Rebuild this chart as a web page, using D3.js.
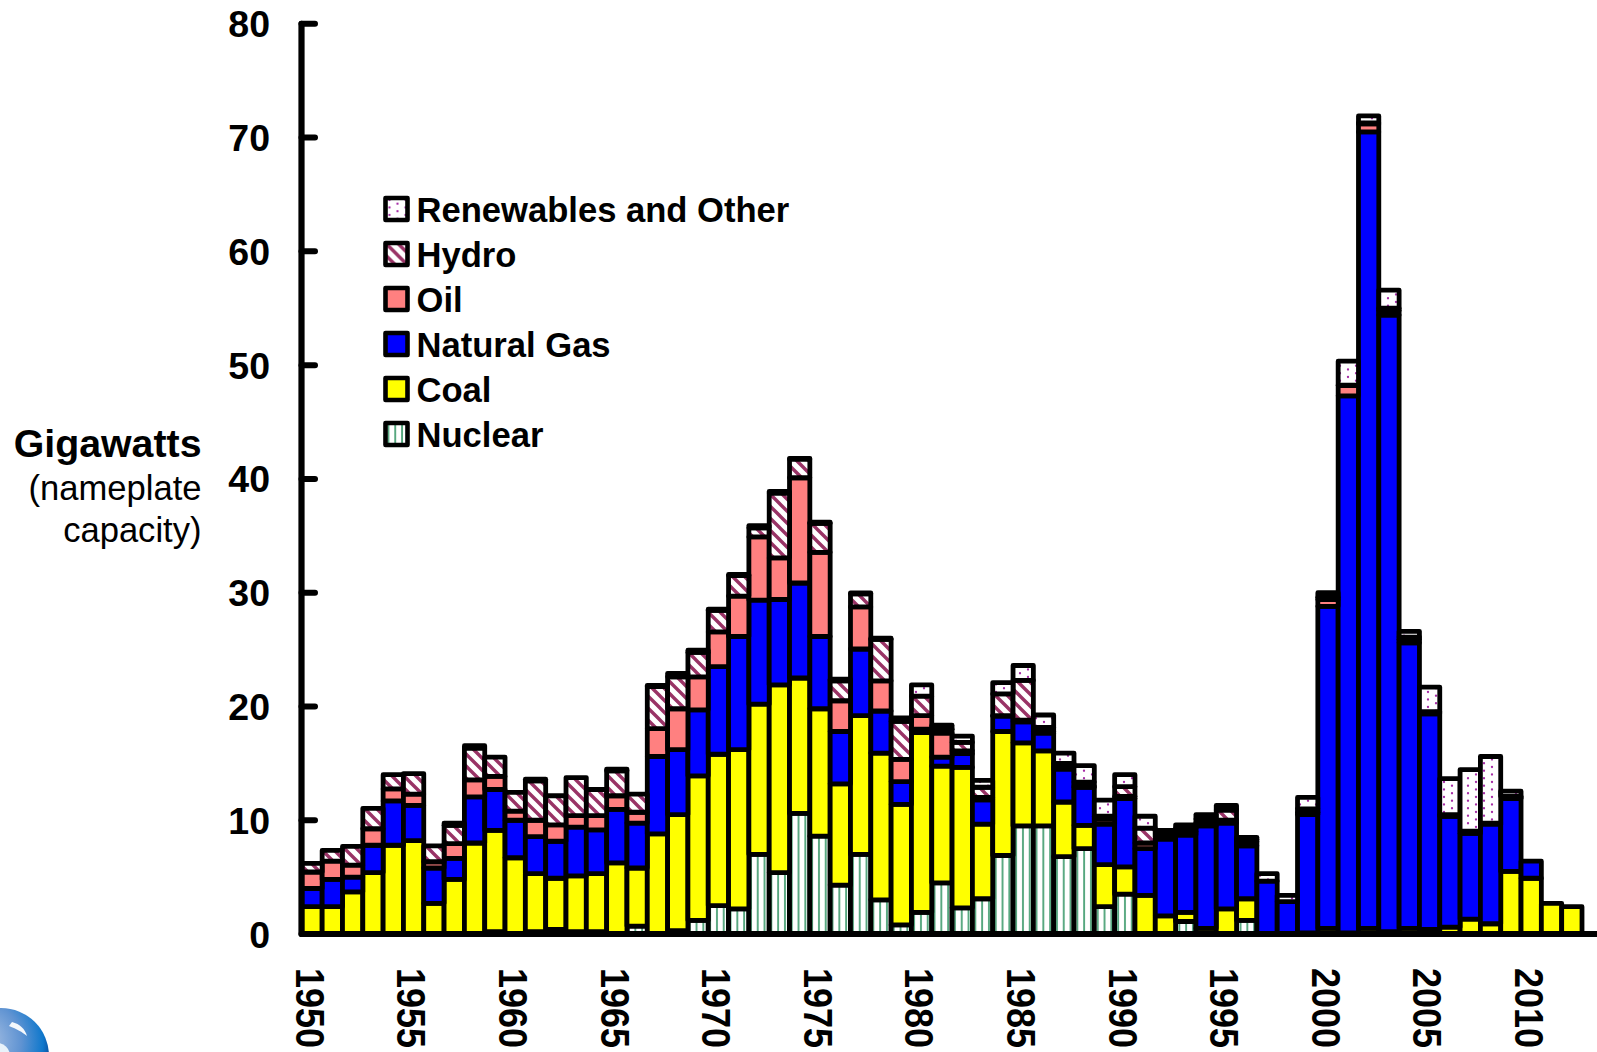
<!DOCTYPE html>
<html><head><meta charset="utf-8">
<script src="https://cdn.jsdelivr.net/npm/d3@7/dist/d3.min.js"></script>
<style>html,body{margin:0;background:#fff;overflow:hidden}svg{display:block}text{font-family:"Liberation Sans",Arial,sans-serif}</style>
</head><body><svg id="c" width="1597" height="1052"></svg>
<script>
const years = d3.range(1950, 2013);
const nuclear = [0,0,0,0,0,0,0,0,0,0.2, 0,0.2,0.4,0.2,0.2,0,0.7,0,0.3,1.2, 2.5,2.2,7,5.4,10.6,8.6,4.3,7,3,0.8, 1.9,4.5,2.3,3.1,6.9,9.5,9.5,6.8,7.5,2.4, 3.5,0,0,1.1,0,0,1.2,0,0,0, 0,0,0,0,0,0,0,0,0,0, 0,0,0];
const coal = [2.4,2.4,3.7,5.4,7.8,8.2,2.7,4.8,8,8.9, 6.7,5.1,4.5,4.9,5.1,6.25,5.1,8.8,10.2,12.7, 13.3,14,13.2,16.5,11.9,11.2,8.9,12.2,12.9,10.6, 15.8,10.25,12.35,6.55,10.9,7.3,6.6,4.8,2.05,3.7, 2.4,3.4,1.6,0.8,0.5,2.2,1.9,0,0,0.1, 0.5,0.1,0.5,0.2,0.5,0.4,0.6,1.3,0.9,5.5, 4.9,2.7,2.4];
const gas = [1.6,2.4,1.3,2.4,3.9,3.1,3.1,1.85,4.05,3.6, 3.3,3.25,3.25,4.3,3.85,4.7,3.95,6.8,5.7,5.8, 7.7,9.95,9.15,7.5,8.35,6.35,4.6,5.85,3.7,2, 0.3,0.8,1.2,2.15,1.35,1.85,1.55,2.9,3.35,3.55, 6,4.1,6.75,6.8,9,7.55,4.65,4.65,2.85,10.4, 28.3,47.2,70,54.2,25.1,18.95,9.75,7.55,8.75,6.4, 1.5,0,0];
const oil = [1.45,1.6,1.05,1.45,1.05,1,0.55,1.3,1.5,1.15, 0.8,1.45,1.45,1,1.25,1.2,0.95,2.45,3.6,2.9, 3.05,3.55,5.55,3.65,9.25,7.4,2.7,3.7,2.65,1.95, 1.2,2.1,0.25,0.2,0.05,0.15,0.15,0.2,0.1,0.45, 0.2,0.5,0.25,0.3,0.3,0.25,0.35,0,0,0.2, 0.6,0.9,0.7,0.4,0.3,0.1,0,0,0,0.1, 0,0,0];
const hydro = [0.75,0.95,1.65,1.8,1.25,1.8,1.4,1.6,2.8,1.7, 1.65,3.45,2.55,3.35,2.3,2.2,1.6,3.7,2.8,2.15, 1.9,1.8,0.8,5.7,1.65,2.55,1.75,1.15,3.65,3.35, 1.7,0.35,0.75,0.9,1.9,3.5,0.35,0.3,0.35,0.26, 0.85,1.3,0.2,0.3,0.3,0.9,0.2,0,0,0.3, 0.2,0.05,0.1,0.2,0.2,0.1,0.15,0.2,0.1,0.1, 0,0,0];
const renewables = [0,0,0,0,0,0,0,0.2,0.2,0, 0,0.15,0,0,0,0.15,0,0.1,0.3,0.2, 0.1,0.1,0.2,0.15,0.05,0.1,0.15,0.07,0.1,0.3, 1,0.35,0.55,0.6,1,1.3,1.1,0.9,1.45,1.4, 1.05,1.05,0.3,0.3,0.4,0.4,0.2,0.65,0.55,1, 0.4,2.1,0.6,1.6,0.5,2.15,3.15,5.4,5.85,0.45, 0,0,0];
const seriesNames = ["Nuclear","Coal","Natural Gas","Oil","Hydro","Renewables and Other"];
const seriesValues = [nuclear,coal,gas,oil,hydro,renewables];
const legendOrder = ["Renewables and Other","Hydro","Oil","Natural Gas","Coal","Nuclear"];
const yTicks = [0,10,20,30,40,50,60,70,80];
const xTicks = [1950,1955,1960,1965,1970,1975,1980,1985,1990,1995,2000,2005,2010];
const fills = {"Nuclear":"url(#pNuc)","Coal":"#ffff00","Natural Gas":"#0000ff","Oil":"#ff8080","Hydro":"url(#pHyd)","Renewables and Other":"url(#pRen)"};

const svg = d3.select("#c");
const defs = svg.append("defs");
const pn = defs.append("pattern").attr("id","pNuc").attr("patternUnits","userSpaceOnUse").attr("width",6.8).attr("height",6);
pn.append("rect").attr("width",6.8).attr("height",6).attr("fill","#fff");
pn.append("rect").attr("x",2).attr("width",1.9).attr("height",6).attr("fill","#55a67e");
const ph = defs.append("pattern").attr("id","pHyd").attr("patternUnits","userSpaceOnUse").attr("width",12).attr("height",12);
ph.append("rect").attr("width",12).attr("height",12).attr("fill","#fff");
ph.append("path").attr("d","M-3,-3L15,15M-3,9L3,15M9,-3L15,3").attr("stroke","#993366").attr("stroke-width",3.4);
const pr = defs.append("pattern").attr("id","pRen").attr("patternUnits","userSpaceOnUse").attr("width",16).attr("height",15);
pr.append("rect").attr("width",16).attr("height",15).attr("fill","#fff");
[[4,2],[4,9.5],[12,5.75],[12,13.25]].forEach(d=>pr.append("circle").attr("cx",d[0]).attr("cy",d[1]).attr("r",1.15).attr("fill","#a62ca6"));
const lg = defs.append("radialGradient").attr("id","logoG").attr("cx","30%").attr("cy","35%").attr("r","75%");
lg.append("stop").attr("offset","0%").attr("stop-color","#b4c8e6");
lg.append("stop").attr("offset","55%").attr("stop-color","#5f93d2");
lg.append("stop").attr("offset","85%").attr("stop-color","#0f78cc");
lg.append("stop").attr("offset","100%").attr("stop-color","#0a3f8e");

const x = d3.scaleBand().domain(years).range([301.84,1582]).padding(0);
const y = d3.scaleLinear().domain([0,80]).range([934,23.8]);

const rows = years.map((yr,i)=>{const o={year:yr};seriesNames.forEach((n,k)=>o[n]=seriesValues[k][i]);return o;});
const stacked = d3.stack().keys(seriesNames)(rows);

svg.append("g").selectAll("g").data(stacked).join("g")
  .attr("fill",d=>fills[d.key])
  .selectAll("rect").data(d=>d.filter(s=>s[1]-s[0]>0)).join("rect")
  .attr("x",d=>x(d.data.year)).attr("width",x.bandwidth())
  .attr("y",d=>y(d[1])).attr("height",d=>y(d[0])-y(d[1]))
  .attr("stroke","#000").attr("stroke-width",4.8).attr("stroke-linejoin","round");

// axes
const yAxis = svg.append("g");
yAxis.append("line").attr("x1",301.5).attr("x2",301.5).attr("y1",y(80)).attr("y2",y(0)).attr("stroke","#000").attr("stroke-width",6.2).attr("stroke-linecap","round");
yAxis.selectAll("line.t").data(yTicks).join("line").attr("class","t")
  .attr("x1",301.5).attr("x2",315).attr("y1",d=>y(d)).attr("y2",d=>y(d)).attr("stroke","#000").attr("stroke-width",6).attr("stroke-linecap","round");
yAxis.selectAll("text").data(yTicks).join("text").attr("x",270).attr("y",d=>y(d)+13.5)
  .attr("text-anchor","end").attr("font-size",37.5).attr("font-weight","bold").text(d=>d);
svg.append("line").attr("x1",301).attr("x2",1597).attr("y1",y(0)).attr("y2",y(0)).attr("stroke","#000").attr("stroke-width",6.2);

svg.append("g").selectAll("text").data(xTicks).join("text")
  .attr("transform",d=>`translate(${x(d)+x.bandwidth()/2-16.3},968) rotate(90) scale(1,1.14)`)
  .attr("font-size",36).attr("font-weight","bold").text(d=>d);

// legend
const leg = svg.append("g").selectAll("g").data(legendOrder).join("g")
  .attr("transform",(d,i)=>`translate(385.5,${198+i*45})`);
leg.append("rect").attr("width",22).attr("height",22).attr("fill",d=>fills[d]).attr("stroke","#000").attr("stroke-width",4.6).attr("stroke-linejoin","round");
leg.append("text").attr("x",31).attr("y",24).attr("font-size",34.6).attr("font-weight","bold").text(d=>d);

// left title
svg.append("text").attr("x",201.5).attr("y",457).attr("text-anchor","end").attr("font-size",39.3).attr("font-weight","bold").text("Gigawatts");
svg.append("text").attr("x",201.5).attr("y",499.5).attr("text-anchor","end").attr("font-size",34.6).text("(nameplate");
svg.append("text").attr("x",201.5).attr("y",541.5).attr("text-anchor","end").attr("font-size",34.6).text("capacity)");

// logo
const logo = svg.append("g");
logo.append("circle").attr("cx",1).attr("cy",1056).attr("r",48).attr("fill","url(#logoG)");
logo.append("path").attr("d","M12,1022 C20,1024 25,1029 27,1036 C22,1032 17,1029 9,1026 Z").attr("fill","#f4f8fc");
logo.append("circle").attr("cx",-3).attr("cy",1056).attr("r",13).attr("fill","#e8f2fa");
</script></body></html>
